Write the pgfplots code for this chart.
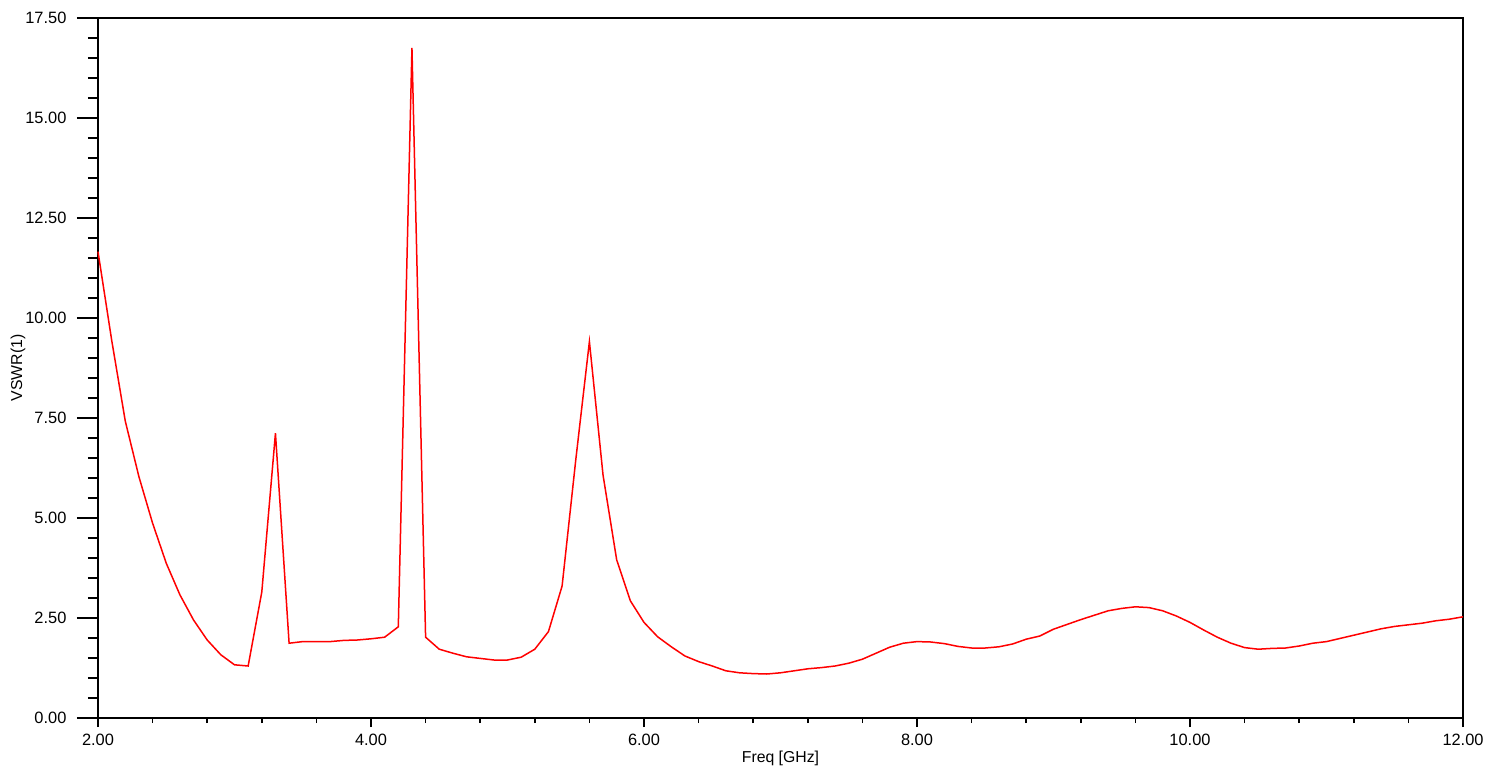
\documentclass[border=0pt]{standalone}
\usepackage{pgfplots}
\pgfplotsset{compat=1.18}
\usepackage{fontspec}
\setmainfont{Liberation Sans}
\begin{document}
\begin{tikzpicture}
\begin{axis}[
  scale only axis,
  width=682.5pt, height=350pt,
  at={(0,0)}, anchor=origin,
  xmin=2, xmax=12, ymin=0, ymax=17.5,
  xtick={2,4,...,12}, ytick={0,2.5,...,17.5},
  minor x tick num=4, minor y tick num=4,
  tick align=outside, xtick pos=bottom, ytick pos=left,
  axis line style={black, line width=0.9pt},
  every tick/.style={black, line width=0.8pt},
  y tick style={/pgfplots/major tick length=10.5pt, /pgfplots/minor tick length=5pt},
  x tick style={/pgfplots/major tick length=4.5pt, /pgfplots/minor tick length=2.5pt},
  /pgf/number format/.cd, fixed, fixed zerofill, precision=2, assume math mode=true, 1000 sep={},
  /pgfplots/.cd,
  tick label style={font=\fontsize{8.2}{10}\selectfont},
  yticklabel style={xshift=-8pt},
  ylabel={VSWR(1)}, xlabel={Freq [GHz]},
  every axis y label/.style={at={(axis description cs:0,0.5)}, anchor=center, xshift=-40pt, rotate=90, font=\fontsize{7.9}{10}\selectfont},
  every axis x label/.style={at={(axis description cs:0.5,0)}, anchor=center, yshift=-20pt, font=\fontsize{7.9}{10}\selectfont},
  clip=false,
]
\addplot[red, line width=0.75pt] table {
2.0 11.66
2.1 9.45
2.2 7.42
2.3 6.03
2.4 4.87
2.5 3.87
2.6 3.08
2.7 2.45
2.8 1.95
2.9 1.58
3.0 1.33
3.1 1.30
3.2 3.15
3.3 7.12
3.4 1.87
3.5 1.91
3.6 1.91
3.7 1.91
3.8 1.94
3.9 1.95
4.0 1.98
4.1 2.02
4.2 2.28
4.3 16.75
4.4 2.02
4.5 1.72
4.6 1.62
4.7 1.53
4.8 1.49
4.9 1.45
5.0 1.45
5.1 1.52
5.2 1.72
5.3 2.16
5.4 3.30
5.5 6.45
5.6 9.41
5.7 6.07
5.8 3.95
5.9 2.93
6.0 2.39
6.1 2.03
6.2 1.78
6.3 1.55
6.4 1.41
6.5 1.30
6.6 1.18
6.7 1.13
6.8 1.11
6.9 1.10
7.0 1.13
7.1 1.18
7.2 1.23
7.3 1.26
7.4 1.30
7.5 1.37
7.6 1.47
7.7 1.62
7.8 1.77
7.9 1.87
8.0 1.91
8.1 1.90
8.2 1.86
8.3 1.79
8.4 1.75
8.5 1.75
8.6 1.78
8.7 1.85
8.8 1.97
8.9 2.05
9.0 2.22
9.1 2.34
9.2 2.46
9.3 2.57
9.4 2.68
9.5 2.74
9.6 2.78
9.7 2.76
9.8 2.68
9.9 2.55
10.0 2.39
10.1 2.20
10.2 2.02
10.3 1.87
10.4 1.76
10.5 1.72
10.6 1.74
10.7 1.75
10.8 1.80
10.9 1.87
11.0 1.91
11.1 1.99
11.2 2.07
11.3 2.15
11.4 2.23
11.5 2.29
11.6 2.33
11.7 2.37
11.8 2.43
11.9 2.47
12.0 2.53
};
\end{axis}
\pgfresetboundingbox
\useasboundingbox (-49pt,-26.5pt) rectangle (694pt,359pt);
\end{tikzpicture}
\end{document}
